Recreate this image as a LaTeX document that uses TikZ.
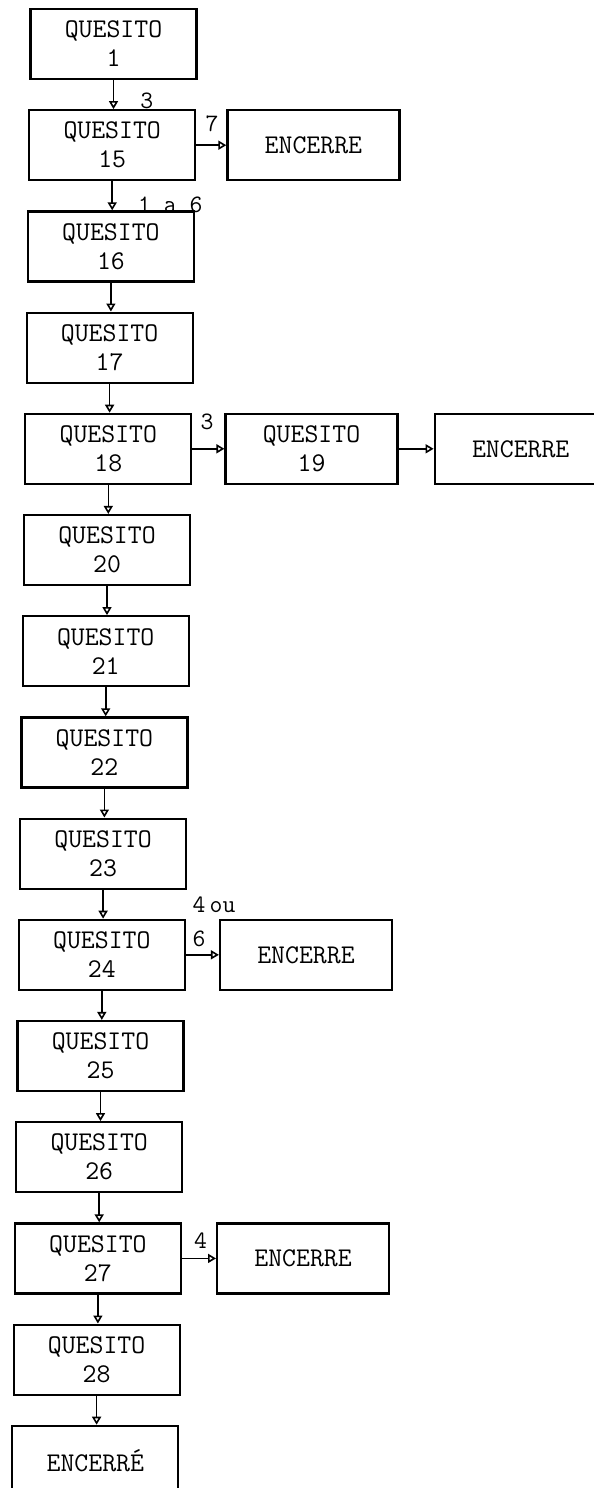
\documentclass[tikz,border=0pt]{standalone}
\usepackage{fontspec}
\usepackage{tikz}
\usetikzlibrary{arrows,arrows.meta}
\usetikzlibrary{calc}
\usetikzlibrary{positioning}

\begin{document}
\begin{tikzpicture}[x=1pt,y=-1pt,->,>={Triangle[open,length=8pt,width=9pt]},line width=1.6pt,node distance=29pt,
		caixa/.style={draw,rectangle,line width=2.2pt,minimum width=166pt,minimum height=70pt,align=center,inner sep=2pt,font=\fontsize{27}{29}\selectfont\ttfamily},
		fim/.style={caixa,minimum width=172pt},
		rot/.style={font=\fontsize{25}{28}\selectfont\ttfamily,inner sep=1pt,align=left}]
	\useasboundingbox (0,0) rectangle (594,1488);

	\node[caixa] (q1) at (113.5,44) {QUESITO\\1};
	\node[caixa] (q15) [below=of q1,xshift=-1.3pt] {QUESITO\\15};
	\node[caixa] (q16) [below=of q15,xshift=-1.3pt] {QUESITO\\16};
	\node[caixa] (q17) [below=of q16,xshift=-1.3pt] {QUESITO\\17};
	\node[caixa] (q18) [below=of q17,xshift=-1.3pt] {QUESITO\\18};
	\node[caixa] (q20) [below=of q18,xshift=-1.3pt] {QUESITO\\20};
	\node[caixa] (q21) [below=of q20,xshift=-1.3pt] {QUESITO\\21};
	\node[caixa] (q22) [below=of q21,xshift=-1.3pt] {QUESITO\\22};
	\node[caixa] (q23) [below=of q22,xshift=-1.3pt] {QUESITO\\23};
	\node[caixa] (q24) [below=of q23,xshift=-1.3pt] {QUESITO\\24};
	\node[caixa] (q25) [below=of q24,xshift=-1.3pt] {QUESITO\\25};
	\node[caixa] (q26) [below=of q25,xshift=-1.3pt] {QUESITO\\26};
	\node[caixa] (q27) [below=of q26,xshift=-1.3pt] {QUESITO\\27};
	\node[caixa] (q28) [below=of q27,xshift=-1.3pt] {QUESITO\\28};
	\node[caixa] (fim) [below=of q28,xshift=-1.3pt] {ENCERRÉ};

	\node[fim] (e15) [right=30pt of q15] {ENCERRE};
	\node[fim] (q19) [right=32pt of q18] {QUESITO\\19};
	\node[fim] (e19) [right=35pt of q19] {ENCERRE};
	\node[fim] (e24) [right=33pt of q24] {ENCERRE};
	\node[fim] (e27) [right=34pt of q27] {ENCERRE};

		\path (q1.south) edge node[rot,pos=0.7,anchor=west,xshift=25pt] {3} (q1.south |- q15.north);
		\path (q15.south) edge node[rot,pos=0.8,anchor=west,xshift=24pt] {1 a 6} (q15.south |- q16.north);
		\path (q16.south) edge (q16.south |- q17.north);
		\path (q17.south) edge (q17.south |- q18.north);
		\path (q18.south) edge (q18.south |- q20.north);
		\path (q20.south) edge (q20.south |- q21.north);
		\path (q21.south) edge (q21.south |- q22.north);
		\path (q22.south) edge (q22.south |- q23.north);
		\path (q23.south) edge (q23.south |- q24.north);
		\path (q24.south) edge (q24.south |- q25.north);
		\path (q25.south) edge (q25.south |- q26.north);
		\path (q26.south) edge (q26.south |- q27.north);
		\path (q27.south) edge (q27.south |- q28.north);
		\path (q28.south) edge (q28.south |- fim.north);

		\path (q15) edge node[rot,pos=0.25,anchor=south west,yshift=12pt] {7} (e15);
		\path (q18) edge node[rot,pos=0.2,anchor=south west,yshift=17pt] {3} (q19);
		\path (q19) edge (e19);
		\path (q24) edge node[rot,pos=0.15,anchor=south west,yshift=6pt] {4\,ou\\[6pt]6} (e24);
		\path (q27) edge node[rot,pos=0.3,anchor=south west,yshift=8pt] {4} (e27);
\end{tikzpicture}
\end{document}
